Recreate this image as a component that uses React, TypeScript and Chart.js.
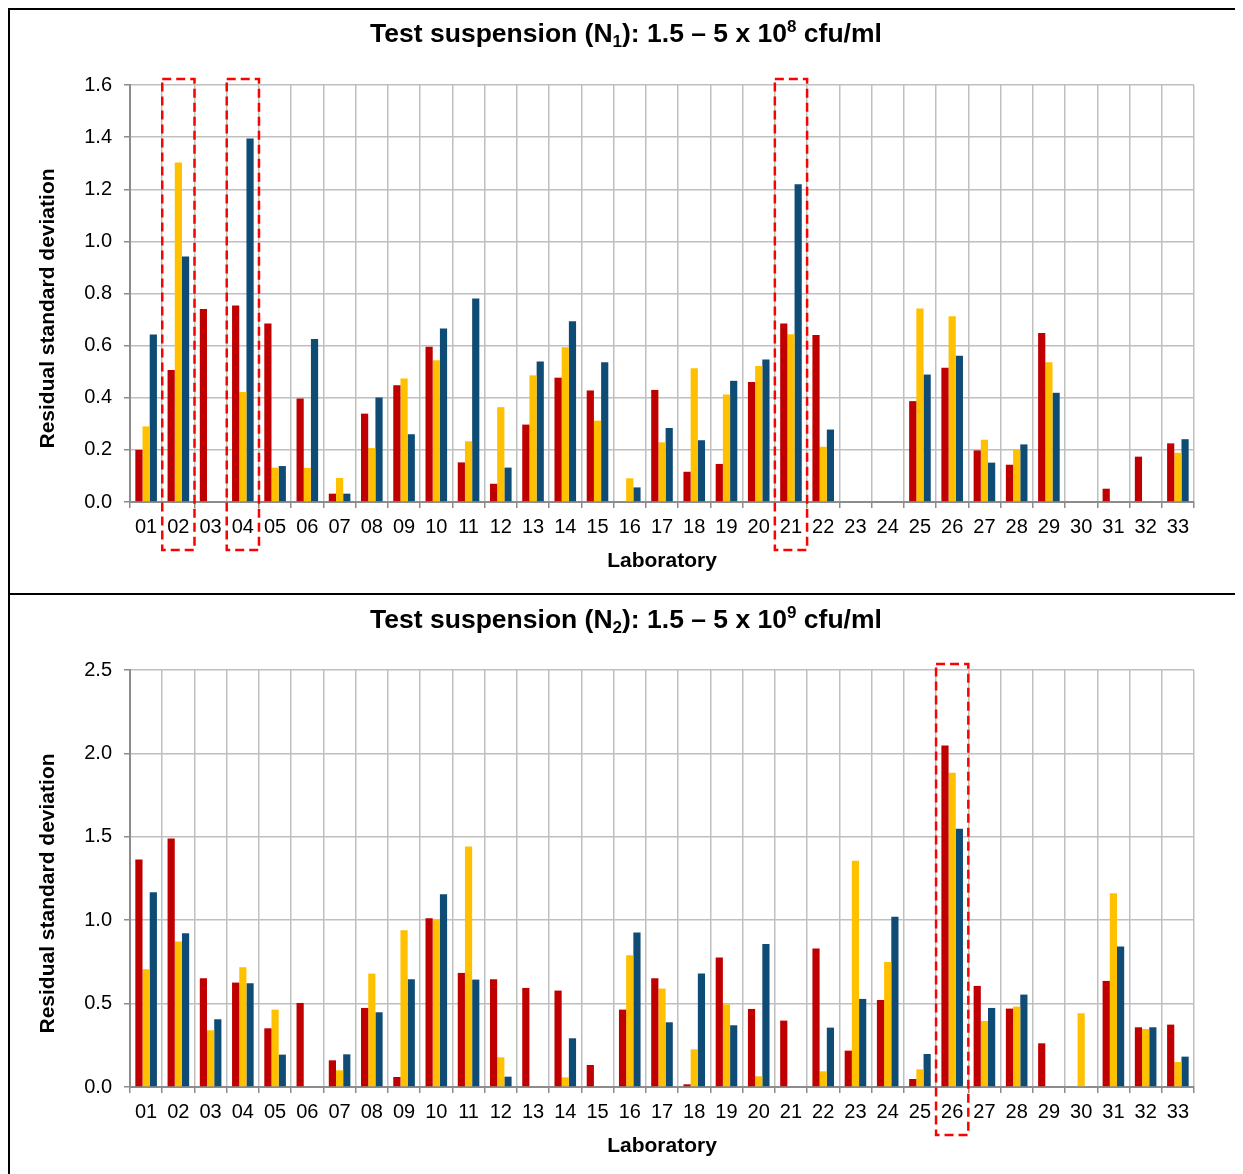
import React, { useEffect, useRef } from "react";
import { Chart, registerables } from "chart.js";

Chart.register(...registerables);

const labs = ["01","02","03","04","05","06","07","08","09","10","11","12","13","14","15","16","17","18","19","20","21","22","23","24","25","26","27","28","29","30","31","32","33"];

const seriesNames = ["Series 1", "Series 2", "Series 3"];
const seriesColors = ["#C00000", "#FFC000", "#0F4C75"];

const n1Red = [0.20,0.506,0.741,0.754,0.685,0.397,0.032,0.339,0.448,0.596,0.152,0.070,0.297,0.477,0.428,null,0.430,0.116,0.146,0.460,0.685,0.641,null,null,0.387,0.515,0.198,0.143,0.648,null,0.051,0.174,0.225];
const n1Yellow = [0.29,1.303,null,0.422,0.132,0.131,0.092,0.207,0.474,0.544,0.233,0.364,0.486,0.594,0.312,0.091,0.229,0.513,0.412,0.522,0.644,0.212,null,null,0.742,0.713,0.239,0.201,0.536,null,null,null,0.189];
const n1Blue = [0.643,0.942,null,1.395,0.138,0.625,0.032,0.401,0.260,0.666,0.781,0.132,0.539,0.694,0.536,0.056,0.284,0.237,0.465,0.547,1.219,0.278,null,null,0.489,0.561,0.151,0.221,0.419,null,null,null,0.241];

const n2Red = [1.364,1.49,0.652,0.626,0.352,0.504,0.16,0.474,0.06,1.012,0.684,0.646,0.594,0.578,0.132,0.464,0.652,0.016,0.776,0.468,0.398,0.83,0.218,0.522,0.048,2.048,0.606,0.47,0.262,null,0.636,0.358,0.374];
const n2Yellow = [0.706,0.872,0.34,0.718,0.464,null,0.10,0.68,0.94,1.006,1.442,0.178,null,0.058,null,0.79,0.59,0.226,0.496,0.064,null,0.094,1.356,0.75,0.106,1.884,0.396,0.482,null,0.442,1.162,0.348,0.15];
const n2Blue = [1.168,0.922,0.406,0.622,0.194,null,0.196,0.448,0.646,1.156,0.644,0.062,null,0.292,null,0.926,0.388,0.68,0.37,0.858,null,0.356,0.528,1.02,0.198,1.548,0.474,0.554,null,null,0.842,0.358,0.182];

const n1Highlights = ["02", "04", "21"];
const n2Highlights = ["26"];

// title pieces: [text, kind] where kind is "n" normal, "sub" subscript, "sup" superscript
const n1TitleParts: [string, string][] = [["Test suspension (N", "n"], ["1", "sub"], ["): 1.5 \u2013 5 x 10", "n"], ["8", "sup"], [" cfu/ml", "n"]];
const n2TitleParts: [string, string][] = [["Test suspension (N", "n"], ["2", "sub"], ["): 1.5 \u2013 5 x 10", "n"], ["9", "sup"], [" cfu/ml", "n"]];
const yTitle = "Residual standard deviation";
const xTitle = "Laboratory";

const FONT = "'Liberation Sans', Arial, Helvetica, sans-serif";

const highlightPlugin = {
  id: "highlightBoxes",
  afterDraw(chart: any, _args: any, opts: any) {
    const list: string[] = (opts && opts.labels) || [];
    const xs = chart.scales.x;
    const area = chart.chartArea;
    const ctx = chart.ctx;
    const all: string[] = xs.getLabels();
    const w = xs.width / all.length;
    ctx.save();
    ctx.strokeStyle = "#FF0000";
    ctx.lineWidth = 2.5;
    ctx.setLineDash([9, 5]);
    list.forEach((l) => {
      const i = all.indexOf(l);
      if (i < 0) return;
      const c = xs.getPixelForValue(i);
      ctx.strokeRect(c - w / 2, area.top - 6, w, area.bottom - area.top + 54);
    });
    ctx.restore();
  },
};

const textPlugin = {
  id: "richText",
  afterDraw(chart: any, _args: any, opts: any) {
    const ctx = chart.ctx;
    const area = chart.chartArea;
    ctx.save();
    ctx.fillStyle = "#000";
    const parts: [string, string][] = opts.parts || [];
    const mainFont = `bold 26.5px ${FONT}`;
    const smallFont = `bold 17px ${FONT}`;
    let total = 0;
    parts.forEach(([t, k]) => {
      ctx.font = k === "n" ? mainFont : smallFont;
      total += ctx.measureText(t).width;
    });
    const cx = (area.left + area.right) / 2 - 36;
    let x = cx - total / 2;
    const base = opts.titleBaseline;
    ctx.textBaseline = "alphabetic";
    ctx.textAlign = "left";
    parts.forEach(([t, k]) => {
      ctx.font = k === "n" ? mainFont : smallFont;
      const dy = k === "sub" ? 5 : k === "sup" ? -10 : 0;
      ctx.fillText(t, x, base + dy);
      x += ctx.measureText(t).width;
    });
    ctx.font = `bold 21px ${FONT}`;
    ctx.textAlign = "center";
    ctx.textBaseline = "middle";
    ctx.fillText(opts.xTitle, (area.left + area.right) / 2, area.bottom + 59);
    ctx.translate(38, (area.top + area.bottom) / 2 + 15);
    ctx.rotate(-Math.PI / 2);
    ctx.fillText(opts.yTitle, 0, 0);
    ctx.restore();
  },
};

type PanelProps = {
  height: number;
  titleParts: [string, string][];
  titleBaseline: number;
  red: (number | null)[];
  yellow: (number | null)[];
  blue: (number | null)[];
  yMax: number;
  yStep: number;
  highlights: string[];
};

function Panel(p: PanelProps) {
  const ref = useRef<HTMLCanvasElement | null>(null);
  useEffect(() => {
    if (!ref.current) return;
    const canvasH = p.height;
    const chart = new Chart(ref.current, {
      type: "bar",
      data: {
        labels: labs,
        datasets: [p.red, p.yellow, p.blue].map((d, k) => ({
          label: seriesNames[k],
          data: d,
          backgroundColor: seriesColors[k],
          borderWidth: 0,
          categoryPercentage: 0.67,
          barPercentage: 1.0,
        })),
      },
      options: {
        responsive: false,
        animation: false,
        layout: { padding: { left: 0, right: 49, top: 75, bottom: 0 } },
        plugins: {
          legend: { display: false },
          tooltip: { enabled: false },
          title: { display: false },
          highlightBoxes: { labels: p.highlights },
          richText: { parts: p.titleParts, titleBaseline: p.titleBaseline, xTitle, yTitle },
        } as any,
        scales: {
          x: {
            grid: {
              offset: true,
              color: "#BFBFBF",
              lineWidth: 1.5,
              tickLength: 6,
              tickColor: "#8C8C8C",
            },
            border: { color: "#8C8C8C", width: 2 },
            ticks: {
              color: "#000",
              font: { family: FONT, size: 20 },
              padding: 7,
              maxRotation: 0,
              autoSkip: false,
            },
            afterFit(scale: any) {
              scale.height = canvasH - 492;
            },
          },
          y: {
            min: 0,
            max: p.yMax,
            grid: {
              color: "#BFBFBF",
              lineWidth: 1.5,
              tickLength: 6,
              tickColor: "#8C8C8C",
            },
            border: { color: "#8C8C8C", width: 2 },
            ticks: {
              stepSize: p.yStep,
              color: "#000",
              font: { family: FONT, size: 20 },
              padding: 12,
              callback: (v: any) => Number(v).toFixed(1),
            },
            afterFit(scale: any) {
              scale.width = 120;
            },
          },
        },
      },
      plugins: [highlightPlugin, textPlugin],
    } as any);
    return () => chart.destroy();
  }, []);
  return <canvas ref={ref} width={1233} height={p.height} style={{ display: "block" }} />;
}

export default function App() {
  useEffect(() => {
    document.documentElement.style.overflow = "hidden";
    document.body.style.overflow = "hidden";
  }, []);
  return (
    <div
      style={{
        width: 1235,
        height: 1166,
        borderTop: "2px solid #000",
        borderLeft: "2px solid #000",
        boxSizing: "border-box",
        background: "#fff",
      }}
    >
      <Panel height={583} titleParts={n1TitleParts} titleBaseline={32} red={n1Red} yellow={n1Yellow} blue={n1Blue} yMax={1.6} yStep={0.2} highlights={n1Highlights} />
      <div style={{ height: 2, background: "#000" }} />
      <Panel height={579} titleParts={n2TitleParts} titleBaseline={33} red={n2Red} yellow={n2Yellow} blue={n2Blue} yMax={2.5} yStep={0.5} highlights={n2Highlights} />
    </div>
  );
}
